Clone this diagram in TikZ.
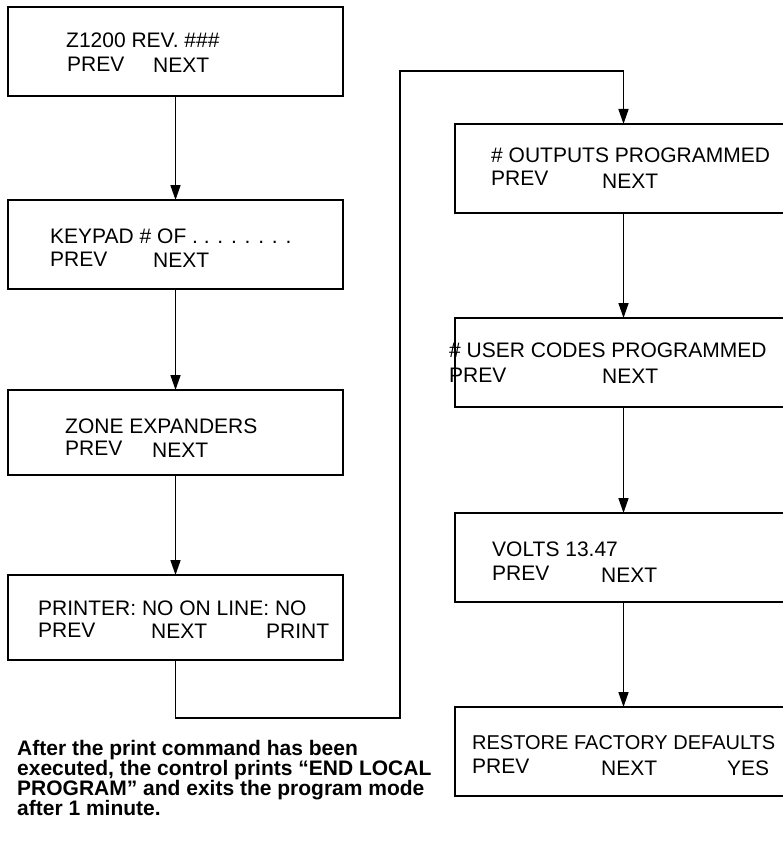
\documentclass[tikz,border=0pt]{standalone}
\usepackage{fontspec}
\setmainfont{Liberation Sans}
\usetikzlibrary{arrows.meta}
\begin{document}
\begin{tikzpicture}[x=1pt,y=-1pt,
  box/.style={draw, line width=2pt, minimum width=335pt, minimum height=89pt, anchor=north west, inner sep=0pt, outer sep=0pt},
  rbox/.style={box, minimum width=337pt},
  txt/.style={anchor=base west, inner sep=0pt, font=\fontsize{21}{24}\selectfont},
  note/.style={anchor=base west, inner sep=0pt, font=\bfseries\fontsize{21}{20}\selectfont},
  conn/.style={line width=1.6pt, -{Triangle[length=15pt,width=10pt]}}]
\useasboundingbox (0,0) rectangle (783,848);

% left column boxes
\node[box] (b1) at (8,7) {};
\node[box] (b2) at (8,200) {};
\node[box, minimum height=85pt] (b3) at (8,390) {};
\node[box, minimum height=85pt] (b4) at (8,575) {};

% right column boxes
\node[rbox] (r1) at (455,124) {};
\node[rbox] (r2) at (455,318) {};
\node[rbox] (r3) at (455,513) {};
\node[rbox] (r4) at (455,707) {};

% texts left
\node[txt] (t1a) at (66,48) {Z1200 REV. \#\#\#};
\node[txt] (t1b) at (67,72) {PREV};
\node[txt] (t1c) at (153,73) {NEXT};

\node[txt] (t2a) at (50,243) {KEYPAD \# OF . . . . . . . .};
\node[txt] (t2b) at (50,266) {PREV};
\node[txt] (t2c) at (153,267) {NEXT};

\node[txt] (t3a) at (65,433) {ZONE EXPANDERS};
\node[txt] (t3b) at (65,455) {PREV};
\node[txt] (t3c) at (152,457) {NEXT};

\node[txt] (t4a) at (38,615) {PRINTER: NO ON LINE: NO};
\node[txt] (t4b) at (38,637) {PREV};
\node[txt] (t4c) at (151,638) {NEXT};
\node[txt] (t4d) at (266,638) {PRINT};

% texts right
\node[txt] (s1a) at (491,162) {\# OUTPUTS PROGRAMMED};
\node[txt] (s1b) at (491,185) {PREV};
\node[txt] (s1c) at (602,188) {NEXT};

\node[txt] (s2a) at (449,357) {\# USER CODES PROGRAMMED};
\node[txt] (s2b) at (449,382) {PREV};
\node[txt] (s2c) at (602,383) {NEXT};

\node[txt] (s3a) at (492,556) {VOLTS 13.47};
\node[txt] (s3b) at (492,580) {PREV};
\node[txt] (s3c) at (601,582) {NEXT};

\node[txt, font=\fontsize{20}{24}\selectfont] (s4a) at (472,749) {RESTORE FACTORY DEFAULTS};
\node[txt] (s4b) at (472,773) {PREV};
\node[txt] (s4c) at (601,775) {NEXT};
\node[txt] (s4d) at (727,775) {YES};

% note
\node[note] (n1) at (17,755) {After the print command has been};
\node[note] (n2) at (17,775) {executed, the control prints “END LOCAL};
\node[note] (n3) at (17,795) {PROGRAM” and exits the program mode};
\node[note] (n4) at (17,815) {after 1 minute.};

% connectors
\draw[conn] (b1.south) -- (b2.north);
\draw[conn] (b2.south) -- (b3.north);
\draw[conn] (b3.south) -- (b4.north);
\coordinate (c1) at (400,718);
\coordinate (c2) at (400,71);
\draw[conn] (b4.south) |- (c1) -- (c2) -| (r1.north);
\draw[conn] (r1.south) -- (r2.north);
\draw[conn] (r2.south) -- (r3.north);
\draw[conn] (r3.south) -- (r4.north);
\end{tikzpicture}
\end{document}
